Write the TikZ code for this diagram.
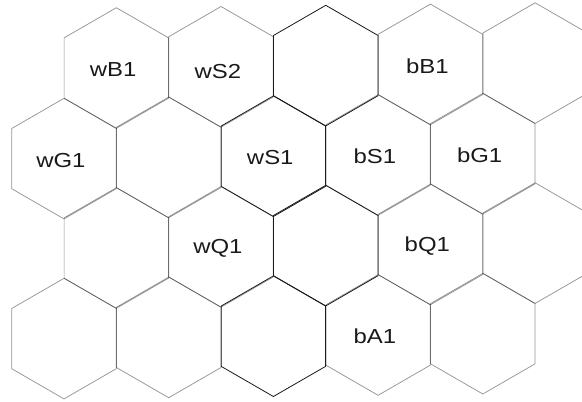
\documentclass[tikz,border=0pt]{standalone}
\usepackage{fontspec}
\setmainfont{Liberation Sans}
\usetikzlibrary{shapes.geometric}
\tikzset{
  hexbase/.style={regular polygon, regular polygon sides=6, shape border rotate=30,
    minimum size=90.45pt, inner sep=0pt, outer sep=0pt},
  hexg/.style={hexbase, draw=black, draw opacity=0.42, line width=0.55pt},
  hexd/.style={hexbase, draw=black!90, line width=0.6pt},
  lbl/.style={font=\fontsize{15.2}{18}\selectfont, xscale=1.18, xshift=-2pt, yshift=-1.2pt,
    text=black!90, inner sep=0pt}
}
\begin{document}
\begin{tikzpicture}[x=0.75pt, y=-0.75pt]
\useasboundingbox (0,0) rectangle (582,401);
\clip (0,0) rectangle (582,401);
% row 0
\node[hexg, label={[lbl]center:wB1}] (r0c0) at (116.35,68.0) {};
\node[hexg, label={[lbl, yshift=-2.5pt]center:wS2}] (r0c1) at (221.05,66.8) {};
\node[hexg, label={[lbl]center:bB1}] (r0c3) at (430.45,64.4) {};
\node[hexg] (r0c4) at (535.15,63.1) {};
% row 1
\node[hexg, label={[lbl]center:wG1}] (r1c0) at (64,158.6) {};
\node[hexg] (r1c1) at (168.7,157.4) {};
\node[hexg, label={[lbl]center:bS1}] (r1c3) at (378.1,155.0) {};
\node[hexg, label={[lbl]center:bG1}] (r1c4) at (482.8,153.7) {};
% row 2
\node[hexg] (r2c0) at (116.35,248.0) {};
\node[hexg, label={[lbl]center:wQ1}] (r2c1) at (221.05,246.8) {};
\node[hexg, label={[lbl]center:bQ1}] (r2c3) at (430.45,244.4) {};
\node[hexg] (r2c4) at (535.15,243.1) {};
% row 3
\node[hexg] (r3c0) at (64,338.6) {};
\node[hexg] (r3c1) at (168.7,337.4) {};
\node[hexg, label={[lbl]center:bA1}] (r3c3) at (378.1,335.0) {};
\node[hexg] (r3c4) at (482.8,333.7) {};
% dark hexes
\node[hexd] (r0c2) at (325.75,65.6) {};
\node[hexd, label={[lbl]center:wS1}] (r1c2) at (273.4,156.2) {};
\node[hexd] (r2c2) at (325.75,245.6) {};
\node[hexd] (r3c2) at (273.4,336.2) {};
\end{tikzpicture}
\end{document}
